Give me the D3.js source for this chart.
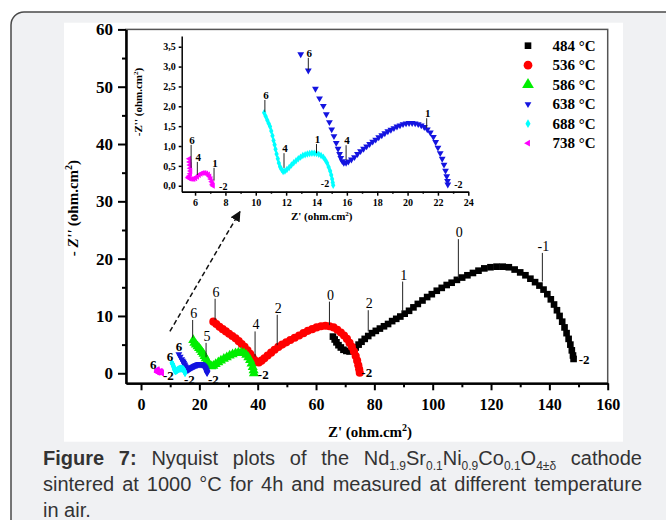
<!DOCTYPE html>
<html>
<head>
<meta charset="utf-8">
<script src="https://cdn.jsdelivr.net/npm/d3@7"></script>
<style>
  body { margin: 0; background: #fff; }
  #chart { position: absolute; left: 0; top: 0; }
  #caption {
    position: absolute; left: 43px; top: 445px; width: 599px;
    font-family: 'Liberation Sans', Arial, sans-serif; font-size: 20px; color: #333;
  }
  #caption .ln { height: 26px; line-height: 26px; white-space: nowrap; }
  #caption .j { text-align: justify; text-align-last: justify; }
  #caption .sb { font-size: 12px; position: relative; top: 5px; line-height: 0; }
</style>
</head>
<body>
<div id="chart"></div>
<div id="caption">
  <div class="ln j"><b>Figure 7:</b> Nyquist plots of the Nd<span class="sb">1.9</span>Sr<span class="sb">0.1</span>Ni<span class="sb">0.9</span>Co<span class="sb">0.1</span>O<span class="sb">4±δ</span> cathode</div>
  <div class="ln j">sintered at 1000 °C for 4h and measured at different temperature</div>
  <div class="ln">in air.</div>
</div>
<script>
const temps = ['484 °C', '536 °C', '586 °C', '638 °C', '688 °C', '738 °C'];

// Z' , -Z'' (ohm.cm2)
const z484 = [[65.8,6.4],[66.4,5.9],[67.0,5.4],[67.7,4.9],[68.5,4.5],[69.4,4.1],[70.4,3.9],[71.5,3.8],[72.6,4.0],[73.6,4.5],[74.6,5.0],[75.6,5.5],[76.7,6.0],[77.9,6.5],[79.2,7.0],[80.5,7.4],[81.9,7.8],[83.3,8.2],[84.7,8.6],[86.1,9.1],[87.5,9.5],[88.9,9.9],[90.4,10.4],[91.9,10.9],[93.4,11.5],[94.9,12.1],[96.5,12.7],[98.1,13.3],[99.7,13.8],[101.4,14.4],[103.1,14.9],[104.8,15.4],[106.5,15.8],[108.3,16.3],[110.1,16.7],[111.9,17.1],[113.8,17.5],[115.7,17.9],[117.7,18.3],[119.8,18.5],[121.9,18.6],[124.0,18.6],[126.1,18.5],[128.1,18.1],[130.0,17.6],[131.8,17.1],[133.5,16.5],[135.1,15.9],[136.6,15.3],[138.0,14.6],[139.3,13.8],[140.5,12.9],[141.6,12.0],[142.6,11.0],[143.5,10.0],[144.4,9.0],[145.2,8.0],[145.9,7.0],[146.6,6.0],[147.2,5.0],[147.7,4.0],[148.1,3.1],[148.3,2.5]];
const z536 = [[24.8,9.0],[25.8,8.6],[26.9,8.1],[28.0,7.7],[29.1,7.3],[30.2,6.9],[31.3,6.5],[32.4,6.1],[33.5,5.6],[34.5,5.1],[35.5,4.6],[36.5,4.0],[37.4,3.4],[38.2,2.8],[38.9,2.3],[39.6,2.0],[40.4,1.9],[41.3,2.2],[42.3,2.6],[43.4,3.1],[44.6,3.6],[45.8,4.1],[47.1,4.6],[48.4,5.0],[49.8,5.4],[51.2,5.8],[52.7,6.2],[54.2,6.6],[55.7,7.0],[57.2,7.4],[58.7,7.7],[60.2,8.0],[61.7,8.2],[63.2,8.3],[64.6,8.2],[66.0,8.0],[67.3,7.6],[68.5,7.1],[69.6,6.6],[70.6,6.0],[71.5,5.3],[72.3,4.6],[73.0,3.8],[73.6,3.0],[74.1,2.2],[74.5,1.4],[74.8,0.7],[75.0,0.1]];
const z586 = [[17.9,5.8],[18.3,5.3],[18.8,5.0],[19.4,4.7],[19.9,4.4],[20.4,4.1],[20.9,3.7],[21.4,3.4],[21.8,3.0],[22.2,2.6],[22.6,2.2],[23.0,1.8],[23.5,1.4],[24.1,1.2],[24.8,1.3],[25.6,1.6],[26.5,1.9],[27.4,2.2],[28.4,2.5],[29.4,2.8],[30.4,3.1],[31.4,3.3],[32.4,3.5],[33.4,3.6],[34.4,3.6],[35.3,3.5],[36.1,3.2],[36.8,2.8],[37.4,2.3],[37.9,1.7],[38.3,1.1],[38.6,0.5],[38.7,0.0]];
const z638 = [[12.96,3.31],[13.46,2.90],[13.93,2.44],[14.2,2.2],[14.45,2.01],[14.65,1.8],[14.85,1.6],[15.0,1.42],[15.15,1.25],[15.3,1.08],[15.42,0.93],[15.52,0.8],[15.6,0.7],[15.7,0.62],[15.8,0.58],[15.95,0.58],[16.1,0.61],[16.3,0.66],[16.5,0.72],[16.7,0.8],[16.9,0.87],[17.1,0.93],[17.3,0.99],[17.5,1.05],[17.7,1.11],[17.9,1.16],[18.1,1.22],[18.3,1.27],[18.5,1.32],[18.7,1.37],[18.9,1.41],[19.1,1.45],[19.3,1.49],[19.5,1.52],[19.7,1.55],[19.9,1.57],[20.1,1.58],[20.3,1.58],[20.5,1.57],[20.7,1.55],[20.9,1.52],[21.1,1.48],[21.3,1.42],[21.5,1.34],[21.7,1.23],[21.85,1.1],[22.0,0.96],[22.15,0.82],[22.28,0.68],[22.4,0.53],[22.5,0.38],[22.58,0.24],[22.63,0.12],[22.65,0.03]];
const z688 = [[10.55,1.84],[10.65,1.75],[10.76,1.65],[10.85,1.57],[10.94,1.49],[11.02,1.38],[11.1,1.26],[11.17,1.14],[11.24,1.03],[11.3,0.92],[11.37,0.8],[11.45,0.68],[11.52,0.57],[11.6,0.48],[11.7,0.41],[11.8,0.36],[11.92,0.37],[12.05,0.41],[12.2,0.46],[12.35,0.52],[12.5,0.58],[12.65,0.63],[12.8,0.68],[12.95,0.72],[13.1,0.76],[13.25,0.78],[13.4,0.8],[13.55,0.81],[13.7,0.82],[13.85,0.82],[14.0,0.81],[14.15,0.79],[14.3,0.76],[14.45,0.72],[14.58,0.65],[14.7,0.57],[14.8,0.47],[14.9,0.37],[14.97,0.27],[15.03,0.17],[15.07,0.08],[15.1,0.01]];
const z738 = [[5.62,0.68],[5.64,0.6],[5.66,0.52],[5.68,0.44],[5.7,0.37],[5.68,0.3],[5.6,0.24],[5.55,0.2],[5.65,0.18],[5.78,0.17],[5.9,0.17],[6.02,0.19],[6.14,0.23],[6.26,0.27],[6.38,0.3],[6.5,0.32],[6.62,0.32],[6.74,0.31],[6.86,0.28],[6.95,0.23],[7.03,0.17],[7.1,0.1],[7.15,0.04],[7.18,0.0]];

const xMainTicks = [0, 20, 40, 60, 80, 100, 120, 140, 160];
const xMainMinor = [10, 30, 50, 70, 90, 110, 130, 150];
const yMainTicks = [0, 10, 20, 30, 40, 50, 60];
const yMainMinor = [5, 15, 25, 35, 45, 55];
const xInsetTicks = [6, 8, 10, 12, 14, 16, 18, 20, 22, 24];
const xInsetMinor = [7, 9, 11, 13, 15, 17, 19, 21, 23];
const yInsetTicks = [0, 0.5, 1, 1.5, 2, 2.5, 3, 3.5];

// log(f) markers: label, Z', curve -Z'', top of leader -Z''
const mainNotes = [
  ['0', 108.8, 16.6, 23.4], ['-1', 137.6, 16.0, 21.0], ['1', 89.7, 10.75, 16.0], ['2', 77.9, 7.3, 11.0],
  ['0', 64.6, 8.4, 12.5], ['2', 46.7, 4.9, 10.2], ['4', 39.1, 2.9, 7.3], ['6', 25.4, 9.3, 13.0],
  ['6', 17.7, 6.2, 9.3], ['5', 22.3, 2.8, 5.3]
];
const mainTags = [
  ['-2', 151.9, 2.4], ['-2', 77.4, 0.1], ['-2', 41.9, -0.3], ['-2', 24.8, -1.05], ['-2', 16.6, -1.05], ['-2', 9.4, -0.47],
  ['6', 13.0, 4.64], ['6', 9.9, 3.0], ['6', 4.2, 1.6]
];
const insetNotes = [
  ['6', 5.74, 0.45, 1.03], ['4', 6.15, 0.27, 0.6], ['1', 7.25, 0.13, 0.45],
  ['6', 10.6, 1.86, 2.16], ['4', 11.86, 0.45, 0.82], ['1', 14.0, 0.82, 1.05],
  ['6', 13.46, 2.91, 3.22], ['4', 15.95, 0.65, 1.02], ['1', 21.26, 1.45, 1.7]
];
const insetTags = [['-2', 7.86, -0.03], ['-2', 14.56, 0.06], ['-2', 23.35, 0.04]];
const arrowFrom = [9.9, 7.3];
const arrowTo = [33.9, 28.2];

const W = 666, H = 520;
const serif = "'Liberation Serif', 'Times New Roman', serif";
const color = d3.scaleOrdinal().domain(temps).range(['#000000', '#ff0000', '#00ee00', '#1414e0', '#00ffff', '#ff00ff']);
const shape = d3.scaleOrdinal().domain(temps).range([d3.symbolSquare, d3.symbolCircle, d3.symbolTriangle, d3.symbolTriangle, d3.symbolDiamond, d3.symbolTriangle]);
const turn = d3.scaleOrdinal().domain(temps).range([0, 0, 0, 180, 0, -90]);
const series = [z484, z536, z586, z638, z688, z738].map((pts, i) => ({ name: temps[i], pts }));

const svg = d3.select('#chart').append('svg').attr('width', W).attr('height', H);

// page panel + white figure area
svg.append('rect').attr('x', 11).attr('y', 12).attr('width', 670).attr('height', 525).attr('rx', 13)
  .attr('fill', '#f0f1f3').attr('stroke', '#4a4a4a').attr('stroke-width', 1.5);
svg.append('rect').attr('x', 64).attr('y', 22.7).attr('width', 559).attr('height', 419).attr('fill', '#fff');

const x = d3.scaleLinear().domain([-5.15, 160]).range([126, 607.7]);
const y = d3.scaleLinear().domain([-1.75, 60]).range([383.3, 29.4]);
const xi = d3.scaleLinear().domain([5.12, 24]).range([181.7, 468.3]);
const yi = d3.scaleLinear().domain([-0.15, 3.77]).range([191.7, 36]);

const g = svg.append('g').attr('font-family', serif);

// frame
g.append('rect').attr('x', x.range()[0]).attr('y', y.range()[1])
  .attr('width', x.range()[1] - x.range()[0]).attr('height', y.range()[0] - y.range()[1])
  .attr('fill', 'none').attr('stroke', '#555').attr('stroke-width', 1.5);

const styleAxis = (sel, size, weight) => {
  sel.select('.domain').attr('stroke', '#000').attr('stroke-width', 2);
  sel.selectAll('.tick line').attr('stroke', '#000').attr('stroke-width', 2);
  sel.selectAll('.tick text').attr('font-family', serif).attr('font-size', size)
    .attr('font-weight', weight).attr('fill', '#000');
};

g.append('g').attr('transform', `translate(0,${y.range()[0]})`)
  .call(d3.axisBottom(x).tickValues(xMainMinor).tickSize(4).tickSizeOuter(0).tickFormat(''))
  .call(s => styleAxis(s, 16, 'bold'));
g.append('g').attr('transform', `translate(0,${y.range()[0]})`)
  .call(d3.axisBottom(x).tickValues(xMainTicks).tickSize(7).tickSizeOuter(0).tickPadding(8))
  .call(s => styleAxis(s, 16, 'bold'));
g.append('g').attr('transform', `translate(${x.range()[0]},0)`)
  .call(d3.axisLeft(y).tickValues(yMainMinor).tickSize(4).tickSizeOuter(0).tickFormat(''))
  .call(s => styleAxis(s, 16, 'bold'));
g.append('g').attr('transform', `translate(${x.range()[0]},0)`)
  .call(d3.axisLeft(y).tickValues(yMainTicks).tickSize(8).tickSizeOuter(0).tickPadding(5))
  .call(s => styleAxis(s, 17, 'bold'));

// axis titles
const xt = g.append('text').attr('x', 370).attr('y', 437).attr('text-anchor', 'middle')
  .attr('font-size', 15).attr('font-weight', 'bold');
xt.append('tspan').text("Z' (ohm.cm");
xt.append('tspan').attr('font-size', 10).attr('dy', -6).text('2');
xt.append('tspan').attr('dy', 6).text(')');

const yt = g.append('text').attr('transform', 'translate(78,208) rotate(-90)').attr('text-anchor', 'middle')
  .attr('font-size', 15).attr('font-weight', 'bold');
yt.append('tspan').text('- ');
yt.append('tspan').attr('font-style', 'italic').text("Z''");
yt.append('tspan').text(' (ohm.cm');
yt.append('tspan').attr('font-size', 10).attr('dy', -6).text('2');
yt.append('tspan').attr('dy', 6).text(')');

// main series
const mainSize = [44, 52, 44, 20, 18, 18];
series.forEach((s, i) => {
  g.append('g').selectAll('path').data(s.pts).enter().append('path')
    .attr('d', d3.symbol().type(shape(s.name)).size(mainSize[i]))
    .attr('transform', d => `translate(${x(d[0])},${y(d[1])}) rotate(${turn(s.name)})`)
    .attr('fill', color(s.name));
});

// leaders and frequency labels
const notes = (parent, list, sx, sy, fs, weight, gap) => {
  list.forEach(n => {
    parent.append('line').attr('x1', sx(n[1])).attr('x2', sx(n[1]))
      .attr('y1', sy(n[2])).attr('y2', sy(n[3])).attr('stroke', '#222').attr('stroke-width', 1);
    parent.append('text').attr('x', sx(n[1]) + 1).attr('y', sy(n[3]) - gap).attr('text-anchor', 'middle')
      .attr('font-size', fs).attr('font-weight', weight).text(n[0]);
  });
};
const tags = (parent, list, sx, sy, fs) => {
  list.forEach(n => {
    parent.append('text').attr('x', sx(n[1])).attr('y', sy(n[2])).attr('text-anchor', 'middle')
      .attr('dominant-baseline', 'central').attr('font-size', fs).attr('font-weight', 'bold').text(n[0]);
  });
};
notes(g, mainNotes, x, y, 14, 'normal', 2);
tags(g, mainTags, x, y, 13);

// dashed arrow toward inset
svg.append('defs').append('marker').attr('id', 'head').attr('viewBox', '0 0 10 10')
  .attr('refX', 9).attr('refY', 5).attr('markerWidth', 7).attr('markerHeight', 7).attr('orient', 'auto')
  .append('path').attr('d', 'M0,0L10,5L0,10z').attr('fill', '#111');
g.append('line').attr('x1', x(arrowFrom[0])).attr('y1', y(arrowFrom[1]))
  .attr('x2', x(arrowTo[0])).attr('y2', y(arrowTo[1]))
  .attr('stroke', '#111').attr('stroke-width', 1.5).attr('stroke-dasharray', '5,3')
  .attr('marker-end', 'url(#head)');

// legend
const lg = g.append('g');
temps.forEach((t, i) => {
  const ly = 45.7 + i * 19.5;
  lg.append('path').attr('d', d3.symbol().type(shape(t)).size([44, 60, 60, 20, 22, 20][i]))
    .attr('transform', `translate(528,${ly}) rotate(${turn(t)})`).attr('fill', color(t));
  lg.append('text').attr('x', 552.5).attr('y', ly + 5).attr('font-size', 15).attr('font-weight', 'bold').text(t);
});

// inset
const ig = g.append('g');
ig.append('g').attr('transform', `translate(0,${yi.range()[0]})`)
  .call(d3.axisBottom(xi).tickValues(xInsetMinor).tickSize(2).tickSizeOuter(0).tickFormat(''))
  .call(s => styleAxis(s, 10, 'bold'));
ig.append('g').attr('transform', `translate(0,${yi.range()[0]})`)
  .call(d3.axisBottom(xi).tickValues(xInsetTicks).tickSize(4).tickSizeOuter(0).tickPadding(3))
  .call(s => styleAxis(s, 10, 'bold'));
ig.append('g').attr('transform', `translate(${xi.range()[0]},0)`)
  .call(d3.axisLeft(yi).tickValues(yInsetTicks).tickSize(3).tickSizeOuter(0).tickPadding(3)
    .tickFormat(d => d.toFixed(1).replace('.', ',')))
  .call(s => styleAxis(s, 10, 'bold'));
ig.selectAll('.domain, .tick line').attr('stroke-width', 1.5);

const ixt = ig.append('text').attr('x', 321.7).attr('y', 220).attr('text-anchor', 'middle')
  .attr('font-size', 11).attr('font-weight', 'bold');
ixt.append('tspan').text("Z' (ohm.cm");
ixt.append('tspan').attr('font-size', 7).attr('dy', -4).text('2');
ixt.append('tspan').attr('dy', 4).text(')');
const iyt = ig.append('text').attr('transform', 'translate(142,102) rotate(-90)').attr('text-anchor', 'middle')
  .attr('font-size', 11).attr('font-weight', 'bold');
iyt.append('tspan').text("-Z'' (ohm.cm");
iyt.append('tspan').attr('font-size', 7).attr('dy', -4).text('2');
iyt.append('tspan').attr('dy', 4).text(')');

series.slice(3).forEach((s, i) => {
  ig.append('g').selectAll('path').data(s.pts).enter().append('path')
    .attr('d', d3.symbol().type(shape(s.name)).size([20, 16, 16][i]))
    .attr('transform', d => `translate(${xi(d[0])},${yi(d[1])}) rotate(${turn(s.name)})`)
    .attr('fill', color(s.name));
});
notes(ig, insetNotes, xi, yi, 11, 'bold', 1);
tags(ig, insetTags, xi, yi, 10);
</script>
</body>
</html>
